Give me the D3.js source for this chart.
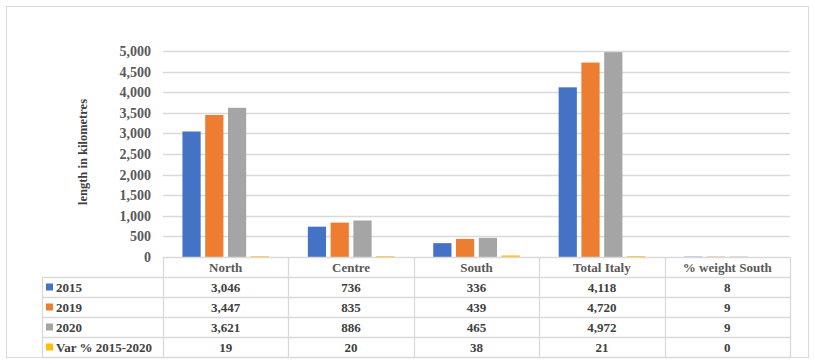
<!DOCTYPE html>
<html>
<head>
<meta charset="utf-8">
<script src="https://cdn.jsdelivr.net/npm/d3@7.9.0/dist/d3.min.js"></script>
<style>
  body { margin: 0; background: #fff; }
  svg { display: block; }
  text { font-family: "Liberation Serif", "Times New Roman", serif; font-weight: bold; }
</style>
</head>
<body>
<svg id="chart" width="815" height="364"></svg>
<script>
// data
const categories = ["North", "Centre", "South", "Total Italy", "% weight South"];
const seriesNames = ["2015", "2019", "2020", "Var % 2015-2020"];
const v2015 = [3046, 736, 336, 4118, 8];
const v2019 = [3447, 835, 439, 4720, 9];
const v2020 = [3621, 886, 465, 4972, 9];
const vVar = [19, 20, 38, 21, 0];
const yTicks = [0, 500, 1000, 1500, 2000, 2500, 3000, 3500, 4000, 4500, 5000];
const colors = ["#4472c4", "#ed7d31", "#a5a5a5", "#ffc000"];

const seriesVals = [v2015, v2019, v2020, vVar];

const W = 815, H = 364;
const plotLeft = 163, plotRight = 790, plotTop = 51, plotBottom = 257;
const rowH = 20;
const tableLeft = 42;
const gridColor = "#d9d9d9";

const svg = d3.select("#chart");

// outer frame
svg.append("rect")
  .attr("x", 6.5).attr("y", 6.5)
  .attr("width", 802).attr("height", 351)
  .attr("fill", "#fff").attr("stroke", gridColor);

const y = d3.scaleLinear().domain([0, 5000]).range([plotBottom, plotTop]);
const x0 = d3.scaleBand().domain(categories).range([plotLeft, plotRight])
  .paddingInner(0.31).paddingOuter(0.155);
const x1 = d3.scaleBand().domain(seriesNames).range([0, x0.bandwidth()])
  .paddingInner(0.2);

// gridlines
svg.append("g")
  .selectAll("line")
  .data(yTicks.filter(d => d > 0))
  .join("line")
  .attr("x1", plotLeft).attr("x2", plotRight)
  .attr("y1", d => Math.round(y(d)) + 0.5)
  .attr("y2", d => Math.round(y(d)) + 0.5)
  .attr("stroke", gridColor).attr("stroke-width", 1.3);

// y axis labels
const yAxis = d3.axisLeft(y).tickValues(yTicks).tickFormat(d3.format(",")).tickSize(0).tickPadding(12);
const gy = svg.append("g").attr("transform", `translate(${plotLeft},0)`).call(yAxis);
gy.select(".domain").remove();
gy.selectAll("text")
  .attr("fill", "#595959")
  .style("font-size", "14px")
  .style("font-family", "'Liberation Serif', serif")
  .style("font-weight", "bold");

// y title
svg.append("text")
  .attr("transform", "translate(87,152) rotate(-90)")
  .attr("text-anchor", "middle")
  .attr("fill", "#404040")
  .style("font-size", "12.5px")
  .text("length in kilometres");

// bars
const groups = svg.append("g")
  .selectAll("g")
  .data(categories)
  .join("g")
  .attr("transform", d => `translate(${x0(d)},0)`);

groups.selectAll("rect")
  .data((c, ci) => seriesNames.map((s, si) => ({ s, si, v: seriesVals[si][ci] })))
  .join("rect")
  .attr("x", d => x1(d.s))
  .attr("width", x1.bandwidth())
  .attr("y", d => y(d.v))
  .attr("height", d => Math.max(0, plotBottom - y(d.v)))
  .attr("fill", d => colors[d.si]);

// table
const tbl = svg.append("g");
const bounds = categories.map(c => x0(c) - x0.step() * x0.paddingInner() / 2);
bounds.push(plotRight);

// horizontal lines
tbl.append("line")
  .attr("x1", plotLeft).attr("x2", plotRight)
  .attr("y1", plotBottom + 0.5).attr("y2", plotBottom + 0.5)
  .attr("stroke", gridColor).attr("stroke-width", 1.3);
for (let r = 1; r <= seriesNames.length + 1; r++) {
  const yy = plotBottom + r * rowH + 0.5;
  tbl.append("line")
    .attr("x1", tableLeft).attr("x2", plotRight)
    .attr("y1", yy).attr("y2", yy)
    .attr("stroke", gridColor).attr("stroke-width", 1.3);
}
// vertical lines
bounds.forEach(b => {
  tbl.append("line")
    .attr("x1", Math.round(b) + 0.5).attr("x2", Math.round(b) + 0.5)
    .attr("y1", plotBottom).attr("y2", plotBottom + 5 * rowH)
    .attr("stroke", gridColor).attr("stroke-width", 1.3);
});
tbl.append("line")
  .attr("x1", tableLeft + 0.5).attr("x2", tableLeft + 0.5)
  .attr("y1", plotBottom + rowH).attr("y2", plotBottom + 5 * rowH)
  .attr("stroke", gridColor).attr("stroke-width", 1.3);

// header labels
tbl.selectAll("text.cat")
  .data(categories)
  .join("text")
  .attr("class", "cat")
  .attr("x", d => x0(d) + x0.bandwidth() / 2)
  .attr("y", plotBottom + rowH / 2 + 4.5)
  .attr("text-anchor", "middle")
  .attr("fill", "#595959")
  .style("font-size", "13px")
  .text(d => d);

// rows
const fmt = d3.format(",");
seriesNames.forEach((s, si) => {
  const cy = plotBottom + (si + 1) * rowH + rowH / 2;
  tbl.append("rect")
    .attr("x", 46).attr("y", cy - 3.5)
    .attr("width", 7).attr("height", 7)
    .attr("fill", colors[si]);
  tbl.append("text")
    .attr("x", 56).attr("y", cy + 4.5)
    .attr("fill", "#404040")
    .style("font-size", "13px")
    .text(s);
  tbl.selectAll(null)
    .data(seriesVals[si])
    .join("text")
    .attr("x", (d, ci) => x0(categories[ci]) + x0.bandwidth() / 2)
    .attr("y", cy + 4.5)
    .attr("text-anchor", "middle")
    .attr("fill", "#404040")
    .style("font-size", "13px")
    .text(d => fmt(d));
});
</script>
</body>
</html>
